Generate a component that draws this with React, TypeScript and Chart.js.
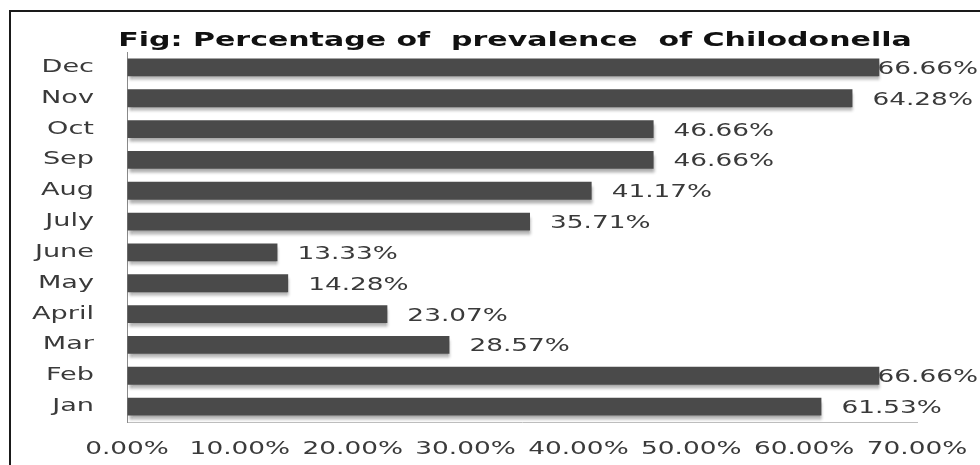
import React, { useEffect, useRef } from "react";
import { Chart, registerables } from "chart.js";

Chart.register(...registerables);

const TITLE = "Fig: Percentage of  prevalence  of Chilodonella";
const months = ["Jan", "Feb", "Mar", "April", "May", "June", "July", "Aug", "Sep", "Oct", "Nov", "Dec"];
const prevalence = [61.53, 66.66, 28.57, 23.07, 14.28, 13.33, 35.71, 41.17, 46.66, 46.66, 64.28, 66.66];
const xTicks = [0, 10, 20, 30, 40, 50, 60, 70];

const FAMILY = "'DejaVu Sans', sans-serif";
const fmt = (v: number) => v.toFixed(2) + "%";

function stretchText(ctx: CanvasRenderingContext2D) {
  const anyCtx = ctx as any;
  if (anyCtx.__stretched) return;
  anyCtx.__stretched = true;
  const origFill = ctx.fillText.bind(ctx);
  const origMeasure = ctx.measureText.bind(ctx);
  const sxFor = () => (ctx.font.indexOf("bold") >= 0 ? 1.5 : 1.55);
  anyCtx.fillText = (text: string, x: number, y: number, maxWidth?: number) => {
    const sx = sxFor();
    ctx.save();
    ctx.translate(x, y);
    ctx.scale(sx, 1);
    if (maxWidth === undefined || maxWidth === null) origFill(text, 0, 0);
    else origFill(text, 0, 0, maxWidth / sx);
    ctx.restore();
  };
  anyCtx.measureText = (text: string) => {
    const m = origMeasure(text);
    const sx = sxFor();
    return {
      width: m.width * sx,
      actualBoundingBoxAscent: m.actualBoundingBoxAscent,
      actualBoundingBoxDescent: m.actualBoundingBoxDescent,
      actualBoundingBoxLeft: m.actualBoundingBoxLeft * sx,
      actualBoundingBoxRight: m.actualBoundingBoxRight * sx,
      fontBoundingBoxAscent: m.fontBoundingBoxAscent,
      fontBoundingBoxDescent: m.fontBoundingBoxDescent,
    };
  };
}

const barDecor = {
  id: "barDecor",
  afterLayout(chart: any) {
    const t = chart.titleBlock;
    if (t) {
      t.left = 113;
      t.right = chart.chartArea.right;
    }
  },
  beforeDatasetsDraw(chart: any) {
    const c = chart.ctx;
    c.save();
    c.shadowColor = "rgba(0,0,0,0.32)";
    c.shadowBlur = 3;
    c.shadowOffsetX = 1;
    c.shadowOffsetY = 4;
  },
  afterDatasetsDraw(chart: any) {
    const c = chart.ctx;
    c.restore();
    const meta = chart.getDatasetMeta(0);
    c.save();
    c.font = "17px " + FAMILY;
    c.fillStyle = "#3a3a3a";
    c.textAlign = "left";
    c.textBaseline = "middle";
    meta.data.forEach((bar: any, i: number) => {
      const txt = fmt(prevalence[i]);
      const w = c.measureText(txt).width;
      let x = bar.x + 20;
      const limit = chart.width - 2;
      if (x + w > limit) x = limit - w;
      c.fillText(txt, x, bar.y + 2);
    });
    c.restore();
  },
};

export default function App() {
  const ref = useRef<HTMLCanvasElement | null>(null);

  useEffect(() => {
    const canvas = ref.current;
    if (!canvas) return;
    const ctx = canvas.getContext("2d") as CanvasRenderingContext2D;
    stretchText(ctx);
    const chart = new Chart(ctx, {
      type: "bar",
      data: {
        labels: months,
        datasets: [
          {
            data: prevalence,
            backgroundColor: "#4a4a4a",
            borderWidth: 0,
            barPercentage: 0.58,
            categoryPercentage: 1,
          },
        ],
      },
      plugins: [barDecor],
      options: {
        indexAxis: "y",
        responsive: false,
        animation: false,
        layout: { padding: { left: 0, right: 63, top: 0, bottom: 0 } },
        plugins: {
          legend: { display: false },
          tooltip: { enabled: false },
          title: {
            display: true,
            text: TITLE,
            color: "#111111",
            font: { family: FAMILY, size: 20, weight: "bold", lineHeight: 1.1 },
            padding: { top: 30, bottom: 0 },
          },
        },
        scales: {
          x: {
            min: 0,
            max: 70,
            afterBuildTicks: (scale: any) => {
              scale.ticks = xTicks.map((v) => ({ value: v }));
            },
            ticks: {
              autoSkip: false,
              maxRotation: 0,
              padding: 17,
              color: "#3a3a3a",
              font: { family: FAMILY, size: 17 },
              callback: (v: any) => fmt(Number(v)),
            },
            grid: { display: true, drawOnChartArea: false, drawTicks: false },
            border: { display: true, color: "#bdbdbd", width: 1 },
            afterFit: (scale: any) => {
              scale.height = 43;
              scale.paddingLeft = 0;
              scale.paddingRight = 0;
            },
          },
          y: {
            reverse: true,
            ticks: {
              autoSkip: false,
              padding: 33,
              color: "#3a3a3a",
              font: { family: FAMILY, size: 17.5 },
            },
            grid: { display: true, drawOnChartArea: false, drawTicks: false },
            border: { display: true, color: "#8a8a8a", width: 1 },
            afterFit: (scale: any) => {
              scale.width = 127;
              scale.paddingTop = 0;
              scale.paddingBottom = 0;
            },
          },
        },
      },
    } as any);
    return () => chart.destroy();
  }, []);

  return (
    <div style={{ position: "fixed", left: 0, top: 0, width: 980, height: 465, background: "#ffffff" }}>
      <div
        style={{
          position: "absolute",
          left: 9,
          top: 10,
          width: 990,
          height: 470,
          borderTop: "2px solid #1a1a1a",
          borderLeft: "2px solid #1a1a1a",
        }}
      />
      <canvas ref={ref} width={980} height={465} style={{ position: "absolute", left: 0, top: 0, display: "block" }} />
    </div>
  );
}
